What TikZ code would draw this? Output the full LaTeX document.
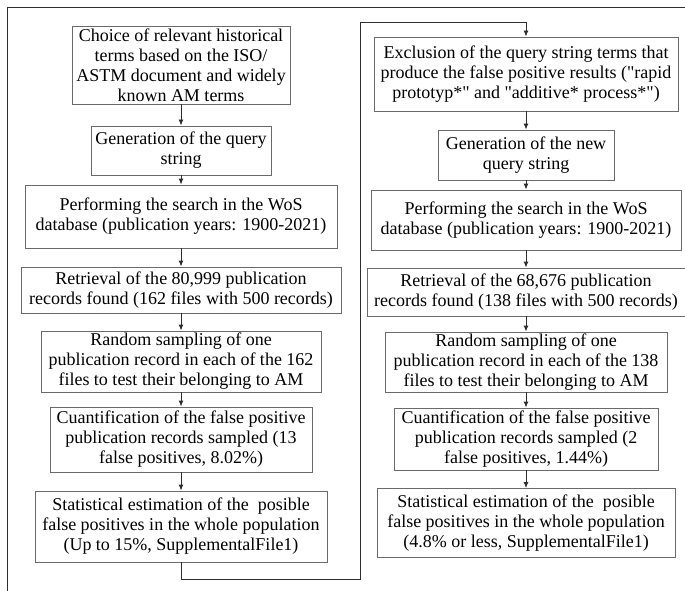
\documentclass[tikz,border=0pt]{standalone}
\usepackage{fontspec}
\setmainfont{Liberation Serif}
\newfontfamily\boxfont{Liberation Serif}
\usetikzlibrary{arrows.meta}
\definecolor{boxgray}{HTML}{6A6A6A}
\definecolor{linegray}{HTML}{2E2E2E}
\begin{document}
\begin{tikzpicture}[x=1pt,y=-1pt,
  box/.style={draw=boxgray, line width=0.9pt, align=center, inner sep=0pt,
    font=\boxfont\fontsize{18}{20}\selectfont, text=black},
  arr/.style={draw=linegray, line width=0.9pt, -{Latex[length=6pt,width=5pt]}},
  ln/.style={draw=linegray, line width=0.9pt},
  frame/.style={draw=linegray, line width=1.6pt}]
\useasboundingbox (0,0) rectangle (685,591);
% outer frame
\coordinate (fTR) at (685,7.5);
\coordinate (fTL) at (7.5,7.5);
\coordinate (fBL) at (7.5,591);
\draw[frame] (fTR) -- (fTL) -- (fBL);
% left column
\node[box, minimum width=218pt, minimum height=78pt] (b1) at (181,65)
  {Choice of relevant historical\\terms based on the ISO/\\ASTM document and widely\\known AM terms};
\node[box, minimum width=180pt, minimum height=49pt] (b2) at (181,150.5)
  {Generation of the query\\string};
\node[box, minimum width=312pt, minimum height=63pt] (b3) at (181,216.5)
  {Performing the search in the WoS\\database (publication years: 1900-2021)};
\node[box, minimum width=320pt, minimum height=46pt] (b4) at (181,290)
  {Retrieval of the 80,999 publication\\records found (162 files with 500 records)};
\node[box, minimum width=280pt, minimum height=61pt] (b5) at (181,361.5)
  {Random sampling of one\\publication record in each of the 162\\files to test their belonging to AM};
\node[box, minimum width=262pt, minimum height=65pt] (b6) at (181,439.5)
  {Cuantification of the false positive\\publication records sampled (13\\false positives, 8.02\%)};
\node[box, minimum width=292pt, minimum height=71pt] (b7) at (181,526.5)
  {Statistical estimation of the \ posible\\false positives in the whole population\\(Up to 15\%, SupplementalFile1)};
% right column
\node[box, minimum width=304pt, minimum height=74pt] (r1) at (526,74)
  {Exclusion of the query string terms that\\produce the false positive results ("rapid\\prototyp*" and "additive* process*")};
\node[box, minimum width=176pt, minimum height=50pt] (r2) at (526,155)
  {Generation of the new\\query string};
\node[box, minimum width=310pt, minimum height=60pt] (r3) at (526,220)
  {Performing the search in the WoS\\database (publication years: 1900-2021)};
\node[box, minimum width=318pt, minimum height=48pt] (r4) at (526,292)
  {Retrieval of the 68,676 publication\\records found (138 files with 500 records)};
\node[box, minimum width=282pt, minimum height=60pt] (r5) at (526,362)
  {Random sampling of one\\publication record in each of the 138\\files to test their belonging to AM};
\node[box, minimum width=264pt, minimum height=62pt] (r6) at (526,439)
  {Cuantification of the false positive\\publication records sampled (2\\false positives, 1.44\%)};
\node[box, minimum width=298pt, minimum height=69pt] (r7) at (526,523)
  {Statistical estimation of the \ posible\\false positives in the whole population\\(4.8\% or less, SupplementalFile1)};
% arrows
\draw[arr] (b1) -- (b2);
\draw[arr] (b2) -- (b3);
\draw[arr] (b3) -- (b4);
\draw[arr] (b4) -- (b5);
\draw[arr] (b5) -- (b6);
\draw[arr] (b6) -- (b7);
\draw[arr] (r1) -- (r2);
\draw[arr] (r2) -- (r3);
\draw[arr] (r3) -- (r4);
\draw[arr] (r4) -- (r5);
\draw[arr] (r5) -- (r6);
\draw[arr] (r6) -- (r7);
% link from left column to right column
\coordinate (c1) at (181,579);
\coordinate (c2) at (360,579);
\coordinate (c3) at (360,22);
\coordinate (c4) at (526,22);
\draw[arr] (b7.south) -- (c1) -- (c2) -- (c3) -- (c4) -- (r1.north);
\end{tikzpicture}
\end{document}
